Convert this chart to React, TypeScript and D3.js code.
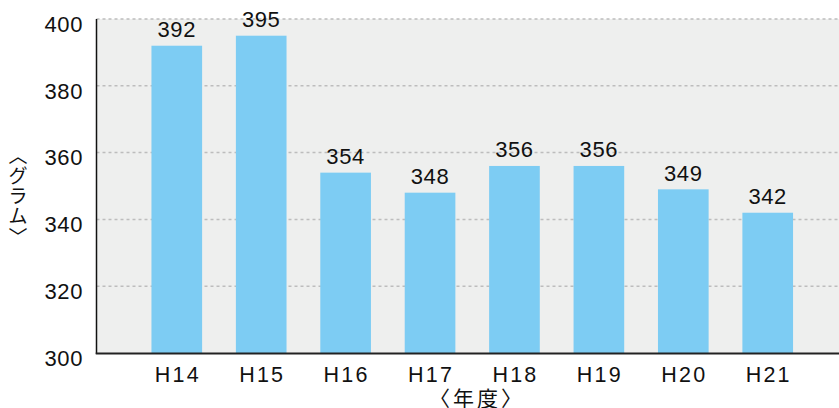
import React from "react";
import * as d3 from "d3";

const categories = ["H14", "H15", "H16", "H17", "H18", "H19", "H20", "H21"];
const values = [392, 395, 354, 348, 356, 356, 349, 342];
const yTicks = [300, 320, 340, 360, 380, 400];
const yLabelChars = ["︿", "グ", "ラ", "ム", "﹀"];
const xAxisLabel = "〈年度〉";

const W = 839;
const H = 408;
const left = 96.5;
const top = 19;
const bottom = 353;
const right = 839;

export default function App() {
  const x = d3
    .scaleBand<string>()
    .domain(categories)
    .range([left, 848])
    .paddingInner(0.4)
    .paddingOuter(0.651);
  const y = d3.scaleLinear().domain([300, 400]).range([bottom, top]);
  const font = "'Liberation Sans', Arial, Helvetica, sans-serif";
  const cjk = "'Noto Sans CJK JP', 'Noto Sans CJK SC', sans-serif";

  return (
    <svg
      width={W}
      height={H}
      style={{ position: "absolute", left: 0, top: 0, background: "#fff" }}
    >
      <rect x={left} y={top} width={right - left} height={bottom - top} fill="#eeefee" />
      {yTicks
        .filter((t) => t !== 300)
        .map((t) => (
          <line
            key={t}
            x1={left}
            x2={right}
            y1={y(t)}
            y2={y(t)}
            stroke="#bdbdbd"
            strokeWidth={1.5}
            strokeDasharray="3,3"
          />
        ))}
      {categories.map((c, i) => (
        <rect
          key={c}
          x={x(c)}
          y={y(values[i])}
          width={x.bandwidth()}
          height={bottom - y(values[i])}
          fill="#7dccf3"
        />
      ))}
      {categories.map((c, i) => (
        <text
          key={"v" + c}
          x={(x(c) as number) + x.bandwidth() / 2}
          y={y(values[i]) - 8.5}
          textAnchor="middle"
          fontFamily={font}
          fontSize={22}
          letterSpacing={0.6}
          fill="#111"
        >
          {values[i]}
        </text>
      ))}
      <line x1={left} x2={left} y1={top} y2={bottom + 1} stroke="#111" strokeWidth={1.5} />
      <line x1={left - 0.75} x2={right} y1={bottom + 0.5} y2={bottom + 0.5} stroke="#222" strokeWidth={2.2} />
      {yTicks.map((t) => (
        <text
          key={"y" + t}
          x={83}
          y={y(t) + 12.7}
          textAnchor="end"
          fontFamily={font}
          fontSize={22}
          letterSpacing={0.6}
          fill="#111"
        >
          {t}
        </text>
      ))}
      {categories.map((c) => (
        <text
          key={"x" + c}
          x={(x(c) as number) + x.bandwidth() / 2 + 1}
          y={381.7}
          textAnchor="middle"
          fontFamily={font}
          fontSize={21.5}
          letterSpacing={2.2}
          fill="#111"
        >
          {c}
        </text>
      ))}
      <text
        x={477}
        y={405.5}
        textAnchor="middle"
        fontFamily={cjk}
        fontSize={21}
        letterSpacing={3}
        fill="#111"
      >
        {xAxisLabel}
      </text>
      {yLabelChars.map((ch, i) => (
        <text
          key={"yl" + i}
          x={18}
          y={154 + i * 20.3}
          textAnchor="middle"
          dominantBaseline="central"
          fontFamily={cjk}
          fontSize={19}
          fill="#111"
        >
          {ch}
        </text>
      ))}
    </svg>
  );
}
